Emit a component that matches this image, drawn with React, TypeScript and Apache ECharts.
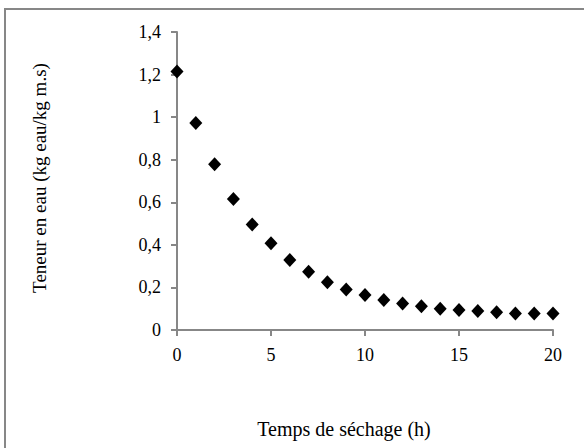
import React, { useEffect, useRef } from "react";
import * as echarts from "echarts";

const hours = [0, 1, 2, 3, 4, 5, 6, 7, 8, 9, 10, 11, 12, 13, 14, 15, 16, 17, 18, 19, 20];
const moisture = [1.215, 0.972, 0.779, 0.615, 0.496, 0.407, 0.329, 0.274, 0.224, 0.19, 0.165, 0.141, 0.125, 0.111, 0.1, 0.094, 0.089, 0.083, 0.078, 0.077, 0.078];
const xTitle = "Temps de séchage (h)";
const yTitle = "Teneur en eau (kg eau/kg m.s)";

const fmt = (v: number) => String(Math.round(v * 10) / 10).replace(".", ",");

export default function App() {
  const ref = useRef<HTMLDivElement>(null);
  useEffect(() => {
    if (!ref.current) return;
    const chart = echarts.init(ref.current, null, { renderer: "svg" });
    const axisColor = "#878787";
    const font = "Liberation Serif";
    chart.setOption({
      animation: false,
      backgroundColor: "#ffffff",
      textStyle: { fontFamily: font },
      grid: { left: 177, right: 31, top: 32, bottom: 118, containLabel: false },
      xAxis: {
        type: "value",
        min: 0,
        max: 20,
        interval: 5,
        axisLine: { show: true, lineStyle: { color: axisColor, width: 2 } },
        axisTick: { show: true, inside: false, length: 6, lineStyle: { color: axisColor, width: 2 } },
        splitLine: { show: false },
        axisLabel: { color: "#000", fontSize: 18, fontFamily: font, margin: 16 },
      },
      yAxis: {
        type: "value",
        min: 0,
        max: 1.4,
        interval: 0.2,
        axisLine: { show: true, lineStyle: { color: axisColor, width: 2 } },
        axisTick: { show: true, inside: false, length: 6, lineStyle: { color: axisColor, width: 2 } },
        splitLine: { show: false },
        axisLabel: { color: "#000", fontSize: 18, fontFamily: font, margin: 16, formatter: fmt },
      },
      graphic: [
        {
          type: "rect",
          shape: { x: 5, y: 9, width: 700, height: 600 },
          style: { fill: "none", stroke: axisColor, lineWidth: 2 },
          silent: true,
          z: -1,
        },
        {
          type: "text",
          x: 344,
          y: 429,
          style: {
            text: xTitle,
            fontSize: 20,
            fontFamily: font,
            fill: "#000",
            align: "center",
            verticalAlign: "middle",
          },
        },
        {
          type: "text",
          x: 39,
          y: 178,
          rotation: Math.PI / 2,
          style: {
            text: yTitle,
            fontSize: 19,
            fontFamily: font,
            fill: "#000",
            align: "center",
            verticalAlign: "middle",
          },
        },
      ],
      series: [
        {
          type: "scatter",
          data: hours.map((h, i) => [h, moisture[i]]),
          symbol: "diamond",
          symbolSize: [13, 14],
          itemStyle: { color: "#000", opacity: 1 },
        },
      ],
    });
    return () => chart.dispose();
  }, []);
  return (
    <div
      ref={ref}
      style={{ position: "fixed", left: 0, top: 0, width: 584, height: 448, background: "#fff" }}
    />
  );
}
